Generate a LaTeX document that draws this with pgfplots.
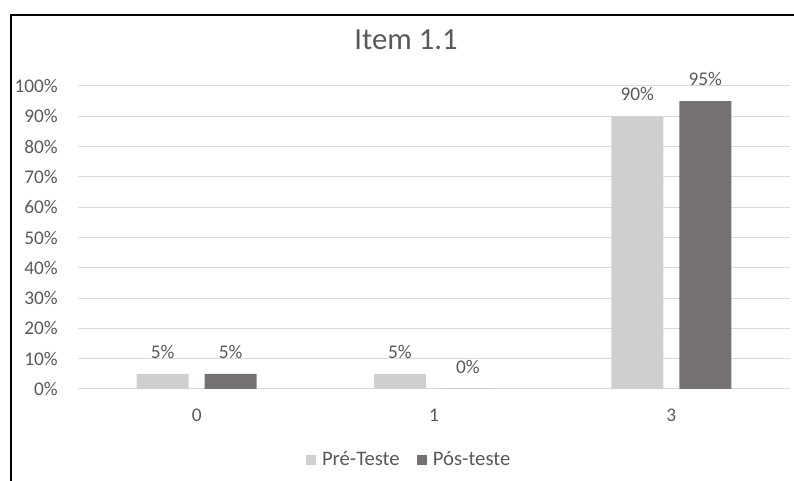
\documentclass[border=0pt]{standalone}
\usepackage{pgfplots}
\pgfplotsset{compat=1.18}
\usepackage{fontspec}
\setmainfont{Carlito}
\definecolor{txt}{HTML}{595959}
\definecolor{gridc}{HTML}{D9D9D9}
\definecolor{pre}{HTML}{D0CECE}
\definecolor{post}{HTML}{767171}
\newcommand{\lbl}{\fontsize{14.5pt}{17pt}\selectfont}

\begin{document}
\begin{tikzpicture}[x=0.75pt,y=0.75pt]
\useasboundingbox (0,0) rectangle (794,481);
% chart frame
\draw[line width=1.5pt] (794,466) -- (11,466) -- (11,0);
% title
\node[font=\fontsize{23pt}{27pt}\selectfont, text=txt, inner sep=0pt] at (406,441) {Item 1.1};
\begin{axis}[
  at={(58.5pt,69pt)}, anchor=south west,
  scale only axis, width=534pt, height=227.25pt,
  xmin=-0.5, xmax=2.5, ymin=0, ymax=100,
  ybar, bar width=39pt,
  axis line style={draw=none},
  major tick length=0pt,
  xtick={0,1,2}, xticklabels={0,1,3},
  ytick={0,10,...,100},
  yticklabel={\pgfmathprintnumber[assume math mode=true]{\tick}\%},
  ymajorgrids, grid style={gridc, line width=0.75pt},
  tick label style={font=\lbl, text=txt, inner sep=0pt},
  y tick label style={anchor=east, xshift=-15pt},
  x tick label style={anchor=center, yshift=-19.5pt},
  nodes near coords={\pgfmathprintnumber[assume math mode=true]{\pgfplotspointmeta}\%},
  every node near coord/.append style={font=\lbl, text=txt, anchor=center, yshift=16.5pt, inner sep=0pt},
  clip=false,
  legend style={at={(0.4656,-0.234)}, anchor=center, draw=none,
    font=\fontsize{15.5pt}{18pt}\selectfont, text=txt,
    legend columns=2, /tikz/every even column/.append style={column sep=11pt}},
  legend image code/.code={\fill[#1] (0pt,-3.75pt) rectangle (7.5pt,3.75pt);
    \path (0pt,0pt) -- (10pt,0pt);},
]
\addplot[fill=pre, draw=none, bar shift=-25.5pt] coordinates {(0,5) (1,5) (2,90)};
\addplot[fill=post, draw=none, bar shift=25.5pt] coordinates {(0,5) (1,0) (2,95)};
\legend{Pré-Teste, Pós-teste}
\end{axis}
\end{tikzpicture}
\end{document}
